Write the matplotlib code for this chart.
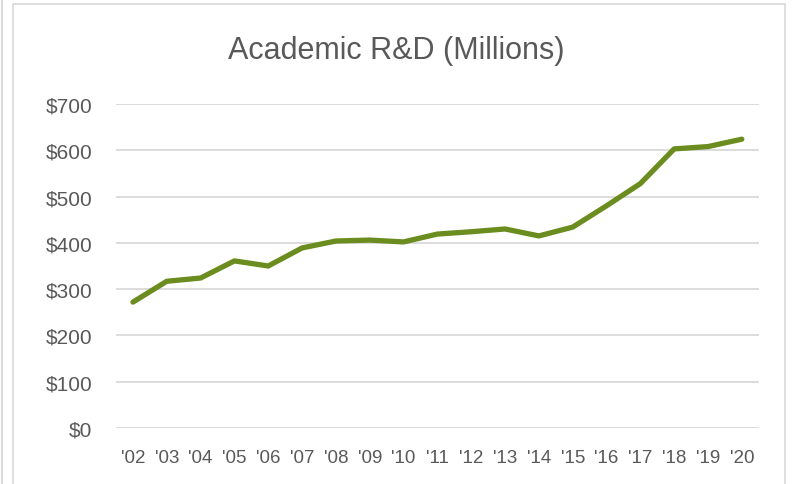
import matplotlib.pyplot as plt
from matplotlib.patches import Rectangle
from matplotlib.lines import Line2D
from matplotlib.ticker import FuncFormatter

years = ["'02", "'03", "'04", "'05", "'06", "'07", "'08", "'09", "'10", "'11",
         "'12", "'13", "'14", "'15", "'16", "'17", "'18", "'19", "'20"]
rd_millions = [272, 317, 324, 361, 350, 389, 404, 406, 402, 419,
               424, 430, 415, 434, 480, 528, 603, 608, 624]
y_ticks = [0, 100, 200, 300, 400, 500, 600, 700]

plt.rcParams["font.family"] = ["Liberation Sans Narrow", "Liberation Sans", "DejaVu Sans"]

fig = plt.figure(figsize=(7.92, 4.85), dpi=100)
ax = fig.add_axes([0.1465, 0.1155, 0.8115, 0.668])

x = list(range(len(years)))
ax.plot(x, rd_millions, color="#6B8C1E", linewidth=3.8, solid_capstyle="round",
        solid_joinstyle="round")

ax.set_xlim(-0.5, len(years) - 0.5)
ax.set_ylim(0, 700)
ax.set_yticks(y_ticks)
ax.yaxis.set_major_formatter(FuncFormatter(lambda v, p: f"${int(v)}"))
ax.set_xticks(x)
ax.set_xticklabels(years)
ax.grid(axis="y", color="#d9d9d9", linewidth=1.3)
ax.set_axisbelow(True)
for side in ["top", "right", "left", "bottom"]:
    ax.spines[side].set_visible(False)
ax.tick_params(axis="both", length=0, colors="#595959")
ax.tick_params(axis="y", labelsize=15, pad=17)
ax.tick_params(axis="x", labelsize=13.5, pad=15)

fig.text(0.5, 0.895, "Academic R&D (Millions)", ha="center", va="center",
         fontsize=22, color="#595959")

# chart border and left edge line
fig.add_artist(Rectangle((13 / 792, -0.05), 772 / 792, 1.04,
                         transform=fig.transFigure, fill=False,
                         edgecolor="#d9d9d9", linewidth=1.2))
fig.add_artist(Line2D([2 / 792, 2 / 792], [0, 1], transform=fig.transFigure,
                      color="#d9d9d9", linewidth=1.5))

fig.savefig("out.png", dpi=100)
